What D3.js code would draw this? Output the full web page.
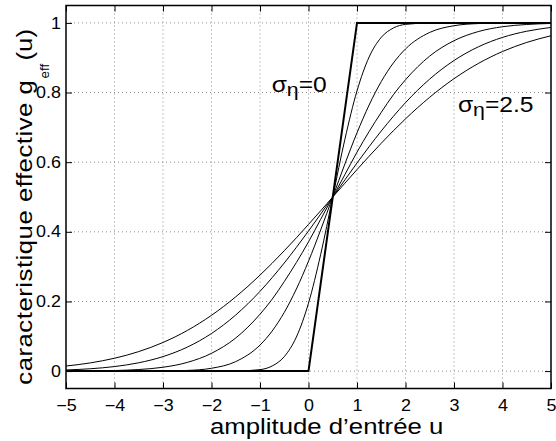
<!DOCTYPE html>
<html>
<head>
<meta charset="utf-8">
<script src="https://cdn.jsdelivr.net/npm/d3@7"></script>
<style>
  body { margin: 0; background: #fff; }
  svg text { font-family: "Liberation Sans", Arial, sans-serif; fill: #000; }
</style>
</head>
<body>
<svg id="chart"></svg>
<script>
// input amplitude grid shared by the noisy curves
const uValues = [-5, -4.5, -4, -3.5, -3, -2.5, -2, -1.5, -1, -0.75, -0.5, -0.25, 0, 0.25, 0.5,
  0.75, 1, 1.25, 1.5, 1.75, 2, 2.5, 3, 3.5, 4, 4.5, 5];

// effective characteristic for each noise level
const gSigma05 = [0, 0, 0, 0, 0, 0, 0, 0.0002, 0.0042, 0.0146, 0.0415, 0.0979, 0.1952, 0.3343, 0.5,
  0.6657, 0.8048, 0.9021, 0.9585, 0.9854, 0.9958, 0.9998, 1, 1, 1, 1, 1];
const gSigma10 = [0, 0, 0, 0.0001, 0.0004, 0.0019, 0.0081, 0.0273, 0.0748, 0.115, 0.1685, 0.2358, 0.3156, 0.4052, 0.5,
  0.5948, 0.6844, 0.7642, 0.8315, 0.885, 0.9252, 0.9727, 0.9919, 0.9981, 0.9996, 0.9999, 1];
const gSigma15 = [0.0002, 0.0005, 0.0016, 0.0045, 0.011, 0.0249, 0.0511, 0.0951, 0.1633, 0.2063, 0.257, 0.3119, 0.3712, 0.4357, 0.5,
  0.5643, 0.6288, 0.6881, 0.743, 0.7937, 0.8367, 0.9049, 0.9489, 0.9751, 0.989, 0.9955, 0.9984];
const gSigma20 = [0.0032, 0.0067, 0.013, 0.0239, 0.0416, 0.0688, 0.108, 0.1612, 0.229, 0.2683, 0.3104, 0.3554, 0.4023, 0.4508, 0.5,
  0.5492, 0.5977, 0.6446, 0.6896, 0.7317, 0.771, 0.8388, 0.892, 0.9312, 0.9584, 0.9761, 0.987];
const gSigma25 = [0.0145, 0.0235, 0.0369, 0.056, 0.0822, 0.1166, 0.1602, 0.2134, 0.2756, 0.3097, 0.3456, 0.3828, 0.4213, 0.4604, 0.5,
  0.5396, 0.5787, 0.6172, 0.6544, 0.6903, 0.7244, 0.7866, 0.8398, 0.8834, 0.9178, 0.944, 0.9631];

// noiseless quantizer (sigma = 0)
const uIdeal = [-5, 0, 1, 5];
const gIdeal = [0, 0, 1, 1];

const xTickValues = [-5, -4, -3, -2, -1, 0, 1, 2, 3, 4, 5];
const yTickValues = [0, 0.2, 0.4, 0.6, 0.8, 1];

// the original lettering is a bit wider than Arial metrics
const WIDEN = "scale(1.12,1)";

class NoiseChart {
  constructor(_config) {
    this.config = {
      parentElement: _config.parentElement,
      containerWidth: _config.containerWidth || 556,
      containerHeight: _config.containerHeight || 441,
      margin: _config.margin || { top: 5.5, right: 5, bottom: 52.5, left: 66 },
    };
    this.initVis();
  }

  initVis() {
    let vis = this;

    vis.width = vis.config.containerWidth - vis.config.margin.left - vis.config.margin.right;
    vis.height = vis.config.containerHeight - vis.config.margin.top - vis.config.margin.bottom;

    vis.xScale = d3.scaleLinear().domain([-5, 5]).range([0, vis.width]);
    vis.yScale = d3.scaleLinear().domain([-0.05, 1.05]).range([vis.height, 0]);

    vis.svg = d3
      .select(vis.config.parentElement)
      .attr("width", vis.config.containerWidth)
      .attr("height", vis.config.containerHeight);

    vis.chart = vis.svg
      .append("g")
      .attr("transform", `translate(${vis.config.margin.left},${vis.config.margin.top})`);
  }

  renderVis() {
    let vis = this;

    // dotted grid
    vis.chart.append("g")
      .selectAll("line")
      .data(xTickValues.slice(1, -1))
      .join("line")
      .attr("x1", (d) => vis.xScale(d))
      .attr("x2", (d) => vis.xScale(d))
      .attr("y1", 0)
      .attr("y2", vis.height)
      .attr("stroke", "#8c8c8c")
      .attr("stroke-dasharray", "1,3");

    vis.chart.append("g")
      .selectAll("line")
      .data(yTickValues)
      .join("line")
      .attr("x1", 0)
      .attr("x2", vis.width)
      .attr("y1", (d) => vis.yScale(d))
      .attr("y2", (d) => vis.yScale(d))
      .attr("stroke", "#8c8c8c")
      .attr("stroke-dasharray", "1,3");

    // curves
    const line = d3.line()
      .x((d) => vis.xScale(d[0]))
      .y((d) => vis.yScale(d[1]))
      .curve(d3.curveMonotoneX);

    const series = [gSigma05, gSigma10, gSigma15, gSigma20, gSigma25];
    vis.chart.append("g")
      .selectAll("path")
      .data(series)
      .join("path")
      .attr("d", (s) => line(uValues.map((u, i) => [u, s[i]])))
      .attr("fill", "none")
      .attr("stroke", "#000")
      .attr("stroke-width", 1);

    vis.chart.append("path")
      .attr("d", d3.line()
        .x((d) => vis.xScale(d[0]))
        .y((d) => vis.yScale(d[1]))(uIdeal.map((u, i) => [u, gIdeal[i]])))
      .attr("fill", "none")
      .attr("stroke", "#000")
      .attr("stroke-width", 2);

    // axes, ticks pointing inward on all four sides
    const xAxis = d3.axisBottom(vis.xScale).tickValues(xTickValues).tickSizeInner(-6).tickSizeOuter(0).tickPadding(11);
    const yAxis = d3.axisLeft(vis.yScale).tickValues(yTickValues).tickSizeInner(-6).tickSizeOuter(0).tickPadding(5)
      .tickFormat((d) => (d === 0 || d === 1 ? d3.format("d")(d) : d3.format(".1f")(d)));

    const xAxisG = vis.chart.append("g")
      .attr("transform", `translate(0,${vis.height})`)
      .call(xAxis);
    const yAxisG = vis.chart.append("g").call(yAxis);
    vis.chart.append("g")
      .call(d3.axisTop(vis.xScale).tickValues(xTickValues).tickSizeInner(-6).tickSizeOuter(0).tickFormat(""));
    vis.chart.append("g")
      .attr("transform", `translate(${vis.width},0)`)
      .call(d3.axisRight(vis.yScale).tickValues(yTickValues).tickSizeInner(-6).tickSizeOuter(0).tickFormat(""));

    vis.chart.selectAll(".domain").remove();
    vis.chart.selectAll(".tick line").attr("stroke", "#000");
    xAxisG.selectAll("text")
      .style("font-size", "16px")
      .attr("fill", "#000")
      .attr("transform", WIDEN);
    yAxisG.selectAll("text")
      .style("font-size", "16px")
      .attr("fill", "#000")
      .attr("x", -5 / 1.12)
      .attr("transform", WIDEN);

    // plot frame
    vis.chart.append("rect")
      .attr("width", vis.width)
      .attr("height", vis.height)
      .attr("fill", "none")
      .attr("stroke", "#000")
      .attr("stroke-width", 1.5);

    // curve annotations
    const addSigma = (u, g, value) => {
      const t = vis.chart.append("text")
        .attr("transform", `translate(${vis.xScale(u)},${vis.yScale(g)}) ${WIDEN}`)
        .style("font-size", "22px");
      t.append("tspan").text("σ");
      t.append("tspan").attr("dy", 4).style("font-size", "19px").text("η");
      t.append("tspan").attr("dy", -4).text("=" + value);
    };
    addSigma(-0.76, 0.803, "0");
    addSigma(3.08, 0.745, "2.5");

    // axis titles
    vis.svg.append("text")
      .attr("transform", `translate(210,434) ${WIDEN}`)
      .style("font-size", "23px")
      .text("amplitude d’entrée u");

    const yTitle = vis.svg.append("text")
      .attr("transform", `translate(32,29) rotate(-90) ${WIDEN}`)
      .attr("text-anchor", "end")
      .style("font-size", "23px");
    yTitle.append("tspan").style("letter-spacing", "0.45px").text("caracteristique effective g");
    yTitle.append("tspan").attr("dx", 1).attr("dy", 17).style("font-size", "12px").text("eff");
    yTitle.append("tspan").attr("dx", 3).attr("dy", -17).text("(u)");
  }
}

const chart = new NoiseChart({ parentElement: "#chart" });
chart.renderVis();
</script>
</body>
</html>
